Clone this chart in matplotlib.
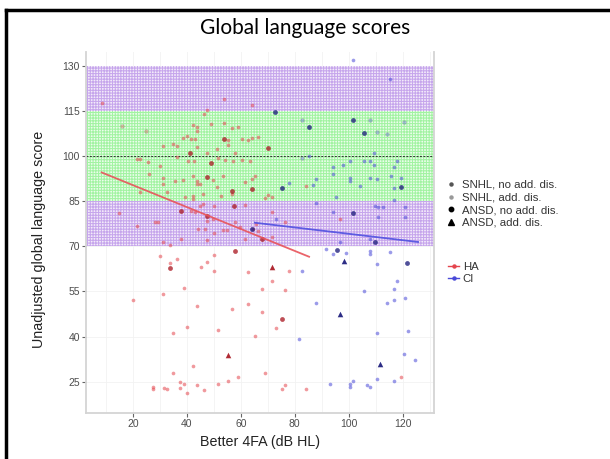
import numpy as np
import matplotlib.pyplot as plt
from matplotlib.lines import Line2D

# etiology codes: 0 SNHL no add. dis., 1 SNHL add. dis., 2 ANSD no add. dis., 3 ANSD add. dis.
ha_x = [8.4, 53.8, 64.0, 16.0, 24.8, 46.3, 47.5, 48.8, 42.3, 43.8, 43.6, 53.8, 56.6, 59.0,
        31.2, 34.9, 36.2, 38.6, 39.9, 41.4, 43.0, 43.6, 41.1, 47.3, 51.0, 53.8, 55.1, 55.3,
        57.8, 60.3, 62.7, 64.0, 36.2, 40.5, 42.6, 49.1, 51.6, 54.1, 57.2, 60.3, 63.3, 21.4,
        22.6, 25.7, 30.0, 26.0, 31.2, 31.2, 35.6, 38.6, 42.1, 43.6, 43.8, 44.8, 47.3, 49.5,
        51.0, 53.4, 56.6, 56.6, 61.5, 64.0, 52.8, 42.3, 46.0, 22.6, 66.4, 70.1, 64.0, 65.2,
        70.1, 71.7, 68.9, 84.1, 32.5, 39.3, 42.3, 14.9, 21.6, 28.1, 29.4, 31.2, 33.7, 37.7,
        37.7, 41.4, 43.0, 44.8, 46.0, 47.5, 47.5, 49.7, 44.2, 46.7, 50.0, 53.2, 54.7, 47.5,
        50.0, 57.4, 61.5, 57.8, 59.6, 61.5, 64.6, 65.8, 71.4, 76.3, 96.7, 66.4, 71.4, 67.7,
        30.0, 36.2, 33.7, 33.7, 50.0, 47.5, 50.0, 45.1, 57.8, 71.6, 62.7, 77.8, 71.6, 38.9,
        31.2, 19.9, 67.7, 76.3, 43.8, 56.6, 62.7, 67.9, 75.3, 72.9, 65.2, 39.9, 34.9, 51.4,
        55.3, 42.3, 34.9, 37.4, 38.9, 27.5, 27.5, 31.5, 32.5, 37.4, 39.9, 43.6, 46.3, 51.4,
        55.3, 59.0, 68.9, 119.5, 76.3, 75.3, 84.1]
ha_y = [117.6, 119.0, 116.8, 109.9, 108.3, 113.8, 115.1, 110.5, 110.3, 109.6, 108.3, 111.0, 109.2, 109.6,
        103.3, 104.1, 103.3, 105.9, 106.6, 105.5, 105.5, 103.0, 101.1, 101.1, 102.2, 105.5, 105.2, 103.5,
        101.1, 105.5, 105.2, 105.9, 99.7, 98.3, 98.3, 97.5, 99.4, 98.6, 98.3, 98.6, 98.3, 98.9,
        98.9, 98.1, 96.7, 94.1, 92.8, 90.8, 91.7, 92.0, 93.4, 91.7, 90.6, 90.8, 93.0, 92.0,
        89.5, 93.4, 88.4, 87.5, 91.2, 89.0, 86.8, 85.7, 87.3, 87.9, 106.3, 102.7, 92.3, 93.4,
        87.1, 86.5, 85.9, 90.1, 87.9, 86.2, 86.8, 80.9, 76.8, 78.2, 78.2, 71.3, 70.5, 81.6,
        72.4, 81.6, 81.2, 83.4, 84.0, 80.1, 78.5, 79.0, 75.7, 75.7, 74.3, 75.4, 75.4, 71.9,
        83.4, 83.4, 83.7, 78.2, 76.3, 72.4, 75.7, 77.4, 81.2, 77.9, 79.0, 75.2, 72.9, 72.4,
        66.9, 65.8, 64.3, 62.8, 67.2, 64.7, 61.9, 63.2, 68.5, 63.2, 61.4, 61.7, 58.4, 56.2,
        54.0, 52.2, 55.9, 55.6, 50.3, 49.2, 50.9, 48.1, 45.7, 42.9, 40.1, 43.1, 41.2, 42.3,
        33.8, 30.1, 27.9, 25.0, 24.4, 23.3, 22.5, 22.8, 22.5, 22.8, 21.1, 23.8, 22.2, 24.4,
        25.3, 26.6, 28.0, 26.4, 23.8, 22.7, 22.5]
ha_code = [0, 0, 0, 1, 1, 0, 0, 0, 0, 0, 0, 0, 0, 0,
           0, 0, 0, 0, 0, 0, 0, 0, 2, 0, 0, 2, 0, 0,
           0, 0, 0, 0, 0, 0, 0, 2, 0, 0, 0, 0, 0, 0,
           0, 0, 0, 0, 0, 0, 0, 0, 0, 0, 0, 0, 2, 0,
           0, 0, 2, 0, 0, 2, 0, 0, 0, 0, 0, 2, 0, 0,
           0, 0, 0, 0, 0, 0, 0, 0, 0, 0, 0, 0, 0, 2,
           0, 0, 0, 0, 0, 2, 0, 0, 0, 0, 0, 0, 0, 0,
           0, 2, 0, 0, 0, 0, 0, 0, 0, 0, 0, 0, 0, 2,
           0, 0, 0, 2, 0, 0, 0, 0, 2, 3, 0, 0, 0, 0,
           0, 0, 0, 0, 0, 0, 0, 0, 2, 0, 0, 0, 0, 0,
           3, 0, 0, 0, 0, 0, 0, 0, 0, 0, 0, 0, 0, 0,
           0, 0, 0, 0, 0, 0, 0]

ci_x = [101.6, 115.4, 72.6, 82.7, 85.3, 101.6, 108.0, 120.5, 105.6, 110.5, 114.2,
        109.3, 82.7, 85.3, 100.4, 105.6, 107.8, 109.3, 118.0, 94.2, 97.9, 116.8, 94.2,
        100.4, 100.4, 107.8, 110.5, 88.0, 86.6, 77.8, 75.1, 115.6, 119.5, 104.1, 119.5,
        116.8, 95.4, 116.8, 120.7, 88.0, 101.6, 94.2, 109.6, 110.9, 112.7, 110.9, 120.7,
        73.2, 64.0, 96.7, 109.6, 107.8, 91.7, 95.7, 94.0, 99.1, 107.8, 107.8, 115.4,
        98.1, 110.5, 121.7, 82.7, 118.0, 116.7, 105.6, 120.7, 116.7, 114.2, 87.8, 96.7,
        81.6, 110.5, 122.0, 120.5, 124.4, 111.7, 110.5, 116.7, 93.0, 100.4, 100.4, 101.6,
        106.6, 108.0]
ci_y = [131.8, 125.7, 114.7, 111.9, 109.6, 111.8, 111.8, 111.3, 107.5, 108.0, 107.4,
        100.8, 99.2, 100.0, 98.3, 98.2, 98.2, 96.9, 98.3, 96.4, 96.9, 96.4, 93.9,
        92.6, 91.7, 92.6, 92.3, 92.3, 90.4, 91.0, 89.2, 93.4, 92.8, 90.1, 89.5,
        89.2, 86.5, 85.4, 82.9, 84.2, 80.9, 81.2, 83.4, 83.1, 82.9, 79.6, 79.6,
        79.0, 75.7, 71.3, 71.3, 72.4, 69.1, 68.8, 67.5, 67.6, 68.5, 67.5, 68.2,
        65.0, 64.1, 64.3, 61.9, 58.4, 55.9, 55.0, 52.9, 52.0, 51.2, 51.2, 47.6,
        39.3, 41.2, 41.8, 34.3, 32.1, 30.8, 26.0, 25.3, 24.4, 24.4, 23.1, 25.2,
        23.8, 23.1]
ci_code = [0, 0, 2, 1, 2, 2, 1, 1, 2, 1, 1,
           0, 1, 0, 0, 0, 0, 0, 0, 0, 0, 0, 0,
           0, 0, 0, 0, 0, 0, 0, 2, 0, 0, 0, 2,
           0, 0, 0, 0, 0, 2, 0, 0, 0, 0, 0, 0,
           0, 2, 0, 2, 0, 0, 2, 0, 0, 0, 0, 0,
           3, 0, 2, 0, 0, 0, 0, 0, 0, 0, 0, 3,
           0, 0, 0, 0, 0, 3, 0, 0, 0, 0, 0, 0,
           0, 0]

# fitted lines (endpoints over each group's range)
ha_fit_x = [8.4, 85.3]
ha_fit_y = [94.5, 66.5]
ci_fit_x = [65.2, 125.7]
ci_fit_y = [77.8, 71.4]

# normative score bands
bands = [(70, 85, 'purple'), (85, 115, 'green'), (115, 130, 'purple')]
etiology_labels = ['SNHL, no add. dis.', 'SNHL, add. dis.', 'ANSD, no add. dis.', 'ANSD, add. dis.']
y_ticks = [25, 40, 55, 70, 85, 100, 115, 130]
x_ticks = [20, 40, 60, 80, 100, 120]

HA_LIGHT, HA_DARK = '#e4454d', '#a8141e'
CI_LIGHT, CI_DARK = '#4a4ad8', '#161678'
BAND_STYLE = {'purple': ('#f3ebfa', '#c6a6ec'), 'green': ('#ebfdeb', '#a2f3a2')}

plt.rcParams['font.family'] = ['Liberation Sans', 'DejaVu Sans']
plt.rcParams['hatch.linewidth'] = 0.75

fig = plt.figure(figsize=(6.1, 4.59), dpi=100)
ax = fig.add_axes([0.141, 0.1002, 0.570, 0.7865])

for lo, hi, name in bands:
    face, hatch_col = BAND_STYLE[name]
    plt.rcParams['hatch.color'] = hatch_col
    ax.axhspan(lo, hi, facecolor=face, edgecolor=hatch_col, hatch='++++++',
               linewidth=0, zorder=1)

ax.axhline(100, color='#333333', linewidth=0.7, linestyle=(0, (2, 1.5)), zorder=2)


def draw_group(xs, ys, codes, light, dark):
    xs, ys, codes = np.array(xs), np.array(ys), np.array(codes)
    m = codes == 0
    ax.scatter(xs[m], ys[m], s=7, color=light, alpha=0.55, linewidths=0, zorder=3)
    m = codes == 1
    ax.scatter(xs[m], ys[m], s=7, color=light, alpha=0.35, linewidths=0.5,
               edgecolors='#888888', zorder=3)
    m = codes == 2
    ax.scatter(xs[m], ys[m], s=12, color=dark, alpha=0.75, linewidths=0, zorder=4)
    m = codes == 3
    ax.scatter(xs[m], ys[m], s=16, marker='^', color=dark, alpha=0.9, linewidths=0, zorder=4)


draw_group(ha_x, ha_y, ha_code, HA_LIGHT, HA_DARK)
draw_group(ci_x, ci_y, ci_code, CI_LIGHT, CI_DARK)

ax.plot(ha_fit_x, ha_fit_y, color='#e8535a', linewidth=1.3, alpha=0.9, zorder=5)
ax.plot(ci_fit_x, ci_fit_y, color='#5050e0', linewidth=1.3, alpha=0.9, zorder=5)

ax.set_xlim(2.6, 131.5)
ax.set_ylim(14.6, 134.5)
ax.set_xticks(x_ticks)
ax.set_yticks(y_ticks)
ax.set_xticks(np.arange(10, 131, 20), minor=True)
ax.grid(True, which='both', color='#f2f2f2', linewidth=0.6, zorder=0)
ax.set_axisbelow(True)
ax.tick_params(axis='both', which='major', length=3, color='#666666', labelsize=7.5,
               labelcolor='#4d4d4d', pad=1.5)
ax.tick_params(axis='both', which='minor', length=0)

for side in ['left', 'bottom', 'right']:
    ax.spines[side].set_color('#d4d4d4')
    ax.spines[side].set_linewidth(1.3)
ax.spines['top'].set_visible(False)

ax.set_xlabel('Better 4FA (dB HL)', fontsize=10.3, color='#222222', labelpad=4)
ax.set_ylabel('Unadjusted global language score', fontsize=10.3, color='#222222', labelpad=6)
ax.yaxis.set_label_coords(-0.115, 0.48)

fig.text(0.5, 0.94, 'Global language scores', ha='center', va='center', fontsize=15,
         family=['Lato', 'DejaVu Sans'])

# legend for etiology
shape_handles = [
    Line2D([], [], linestyle='none', marker='o', markersize=2.2, color='#555555'),
    Line2D([], [], linestyle='none', marker='o', markersize=2.2, color='#999999'),
    Line2D([], [], linestyle='none', marker='o', markersize=3.2, color='#000000'),
    Line2D([], [], linestyle='none', marker='^', markersize=3.8, color='#000000'),
]
leg1 = fig.legend(shape_handles, etiology_labels, loc='upper left',
                  bbox_to_anchor=(0.727, 0.618), frameon=False, fontsize=8.2,
                  handlelength=0.6, handletextpad=0.6, labelspacing=0.23,
                  borderaxespad=0, labelcolor='#333333')

group_handles = [
    Line2D([], [], color=HA_LIGHT, marker='o', markersize=2.2, linewidth=1.0),
    Line2D([], [], color=CI_LIGHT, marker='o', markersize=2.2, linewidth=1.0),
]
leg2 = fig.legend(group_handles, ['HA', 'CI'], loc='upper left',
                  bbox_to_anchor=(0.727, 0.44), frameon=False, fontsize=8.2,
                  handlelength=1.0, handletextpad=0.3, labelspacing=0.23,
                  borderaxespad=0, labelcolor='#333333')

# slide frame
fig.add_artist(Line2D([0.0095, 1.0], [0.9785, 0.9785], color='black', linewidth=2.5))
fig.add_artist(Line2D([0.0095, 0.0095], [0.0, 0.9785], color='black', linewidth=2.5))

fig.savefig('out.png', dpi=100)
